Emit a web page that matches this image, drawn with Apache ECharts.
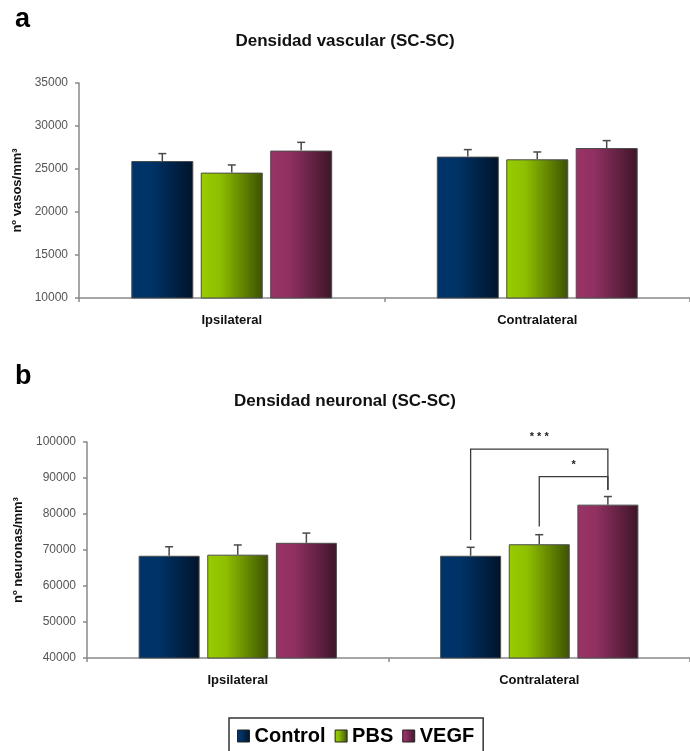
<!DOCTYPE html>
<html>
<head>
<meta charset="utf-8">
<script src="https://cdn.jsdelivr.net/npm/echarts@6/dist/echarts.min.js"></script>
<style>
html,body{margin:0;padding:0;background:#fff;}
#chart{width:690px;height:751px;}
</style>
</head>
<body>
<div id="chart"></div>
<script>
// ---------- DATA ----------
const categories = ['Ipsilateral', 'Contralateral'];
const seriesNames = ['Control', 'PBS', 'VEGF'];

// Panel a: Densidad vascular (nº vasos/mm³)
const vascControl = [25930, 26440];
const vascPBS     = [24580, 26130];
const vascVEGF    = [27140, 27440];
const vascControlErr = [860, 815];
const vascPBSErr     = [890, 850];
const vascVEGFErr    = [960, 860];
const vascTicks = [10000, 15000, 20000, 25000, 30000, 35000];

// Panel b: Densidad neuronal (nº neuronas/mm³)
const neurControl = [68400, 68400];
const neurPBS     = [68700, 71600];
const neurVEGF    = [72000, 82600];
const neurControlErr = [2500, 2350];
const neurPBSErr     = [2700, 2650];
const neurVEGFErr    = [2700, 2250];
const neurTicks = [40000, 50000, 60000, 70000, 80000, 90000, 100000];

// significance brackets: [category, fromSeries, toSeries, fromBottom, toBottom, top, label]
const neurBrackets = [
  [1, 0, 2, 72800, 86700, 98000, '* * *'],
  [1, 1, 2, 76500, 86700, 90400, '*']
];

// ---------- STYLE ----------
const FONT = 'Liberation Sans, Arial, sans-serif';
const baseColors = [
  ['#003469', '#003469', '#00142b'],
  ['#99cc00', '#8fc000', '#3d5200'],
  ['#993366', '#913062', '#3e1529']
];
function grad(c) {
  return new echarts.graphic.LinearGradient(0, 0, 1, 0, [
    {offset: 0, color: c[0]}, {offset: 0.3, color: c[1]}, {offset: 1, color: c[2]}
  ]);
}
const BAR = [{w: 62, gap: 0.12}, {w: 61, gap: 0.125}];

function barCenterOffset(gridIdx, s) {
  const w = BAR[gridIdx].w, g = w * BAR[gridIdx].gap;
  const total = 3 * w + 2 * g;
  return -total / 2 + w / 2 + s * (w + g);
}

const vascVals = [vascControl, vascPBS, vascVEGF];
const vascErrs = [vascControlErr, vascPBSErr, vascVEGFErr];
const neurVals = [neurControl, neurPBS, neurVEGF];
const neurErrs = [neurControlErr, neurPBSErr, neurVEGFErr];

function errData(vals, errs) {
  const out = [];
  vals.forEach((arr, s) => arr.forEach((v, c) => out.push([c, s, v, errs[s][c]])));
  return out;
}

function errRender(gridIdx) {
  return function (params, api) {
    const c = api.value(0), s = api.value(1), v = api.value(2), e = api.value(3);
    const p0 = api.coord([c, v]);
    const p1 = api.coord([c, v + e]);
    const x = p0[0] + barCenterOffset(gridIdx, s);
    const cap = 4;
    return {
      type: 'group',
      children: [
        {type: 'line', shape: {x1: x, y1: p0[1], x2: x, y2: p1[1]}, style: {stroke: '#4a4a4a', lineWidth: 1.5}},
        {type: 'line', shape: {x1: x - cap, y1: p1[1], x2: x + cap, y2: p1[1]}, style: {stroke: '#4a4a4a', lineWidth: 1.5}}
      ]
    };
  };
}

function bracketRender(params, api) {
  const c = api.value(0), sa = api.value(1), sb = api.value(2);
  const va = api.value(3), vb = api.value(4), top = api.value(5);
  const label = neurBrackets[params.dataIndex][6];
  const pa = api.coord([c, va]), pb = api.coord([c, vb]), pt = api.coord([c, top]);
  const xa = pa[0] + barCenterOffset(1, sa);
  const xb = pb[0] + barCenterOffset(1, sb);
  return {
    type: 'group',
    children: [
      {type: 'polyline', shape: {points: [[xa, pa[1]], [xa, pt[1]], [xb, pt[1]], [xb, pb[1]]]},
       style: {stroke: '#3a3a3a', lineWidth: 1.3, fill: null}},
      {type: 'text', x: (xa + xb) / 2, y: pt[1] - 12,
       style: {text: label, fill: '#222', font: 'bold 11px ' + FONT, align: 'center', verticalAlign: 'middle'}}
    ]
  };
}

function barSeries(name, s, gridIdx, data) {
  return {
    name: name, type: 'bar', xAxisIndex: gridIdx, yAxisIndex: gridIdx,
    data: data, barWidth: BAR[gridIdx].w, barGap: (BAR[gridIdx].gap * 100) + '%',
    itemStyle: {color: grad(baseColors[s]), borderColor: '#4d4d4d', borderWidth: 1},
    emphasis: {disabled: true}, animation: false, z: 2
  };
}

const yAxisCommon = {
  type: 'value',
  axisLine: {show: true, lineStyle: {color: '#8a8a8a', width: 1.5}},
  axisTick: {show: true, length: 4, lineStyle: {color: '#8a8a8a', width: 1.5}},
  axisLabel: {color: '#555', fontSize: 12, fontFamily: FONT, margin: 11, formatter: v => String(v)},
  splitLine: {show: false},
  nameLocation: 'middle', nameRotate: 90,
  nameTextStyle: {fontSize: 13, fontWeight: 'bold', color: '#111', fontFamily: FONT}
};
const xAxisCommon = {
  type: 'category', data: categories,
  axisLine: {show: true, lineStyle: {color: '#8a8a8a', width: 1.5}},
  axisTick: {show: true, length: 4, lineStyle: {color: '#8a8a8a', width: 1.5}},
  axisLabel: {color: '#111', fontSize: 13, fontWeight: 'bold', fontFamily: FONT, margin: 16},
  splitLine: {show: false}
};

const option = {
  backgroundColor: '#fff',
  animation: false,
  textStyle: {fontFamily: FONT},
  title: [
    {text: 'a', left: 15, top: 6, padding: 0, textStyle: {fontSize: 27, fontWeight: 'bold', color: '#000', fontFamily: FONT}},
    {text: 'Densidad vascular (SC-SC)', left: 'center', top: 33, padding: 0,
     textStyle: {fontSize: 17, fontWeight: 'bold', color: '#111', fontFamily: FONT}},
    {text: 'b', left: 15, top: 363, padding: 0, textStyle: {fontSize: 27, fontWeight: 'bold', color: '#000', fontFamily: FONT}},
    {text: 'Densidad neuronal (SC-SC)', left: 'center', top: 393, padding: 0,
     textStyle: {fontSize: 17, fontWeight: 'bold', color: '#111', fontFamily: FONT}}
  ],
  legend: {
    data: seriesNames, left: 229, top: 718, orient: 'horizontal',
    padding: [8, 9, 20, 8], borderColor: '#333', borderWidth: 1.5,
    itemWidth: 12, itemHeight: 12, itemGap: 9, icon: 'rect',
    itemStyle: {borderColor: '#222', borderWidth: 1},
    textStyle: {fontSize: 20, fontWeight: 'bold', color: '#000', fontFamily: FONT},
    selectedMode: false
  },
  grid: [
    {left: 79, top: 83, width: 616, height: 215, containLabel: false},
    {left: 87, top: 442, width: 609, height: 216, containLabel: false}
  ],
  xAxis: [
    Object.assign({}, xAxisCommon, {gridIndex: 0}),
    Object.assign({}, xAxisCommon, {gridIndex: 1})
  ],
  yAxis: [
    Object.assign({}, yAxisCommon, {gridIndex: 0, min: vascTicks[0], max: vascTicks[vascTicks.length - 1],
      interval: vascTicks[1] - vascTicks[0], name: 'nº vasos/mm³', nameGap: 52}),
    Object.assign({}, yAxisCommon, {gridIndex: 1, min: neurTicks[0], max: neurTicks[neurTicks.length - 1],
      interval: neurTicks[1] - neurTicks[0], name: 'nº neuronas/mm³', nameGap: 59})
  ],
  series: [
    barSeries('Control', 0, 0, vascControl),
    barSeries('PBS', 1, 0, vascPBS),
    barSeries('VEGF', 2, 0, vascVEGF),
    barSeries('Control', 0, 1, neurControl),
    barSeries('PBS', 1, 1, neurPBS),
    barSeries('VEGF', 2, 1, neurVEGF),
    {type: 'custom', xAxisIndex: 0, yAxisIndex: 0, renderItem: errRender(0),
     data: errData(vascVals, vascErrs), z: 1, silent: true, clip: false},
    {type: 'custom', xAxisIndex: 1, yAxisIndex: 1, renderItem: errRender(1),
     data: errData(neurVals, neurErrs), z: 1, silent: true, clip: false},
    {type: 'custom', xAxisIndex: 1, yAxisIndex: 1, renderItem: bracketRender,
     data: neurBrackets.map(b => b.slice(0, 6)), z: 3, silent: true, clip: false}
  ]
};

const chart = echarts.init(document.getElementById('chart'), null, {renderer: 'canvas'});
chart.setOption(option);
</script>
</body>
</html>
